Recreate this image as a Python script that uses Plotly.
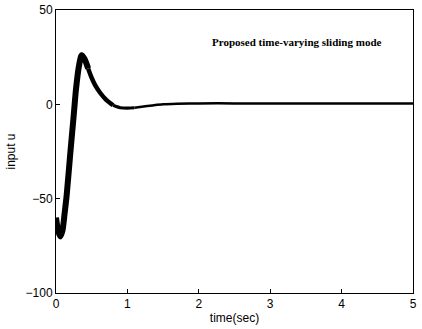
import plotly.graph_objects as go

time_s = [0.0, 0.03, 0.06, 0.09, 0.12, 0.15, 0.2, 0.25, 0.28, 0.32, 0.36, 0.4, 0.45, 0.5, 0.55, 0.62, 0.7, 0.8, 0.9, 1.0,
          1.1, 1.2, 1.35, 1.5, 1.7, 2.0, 2.5, 3.0, 3.5, 4.0, 4.5, 5.0]
input_u = [-60, -67, -70, -67, -58, -48, -26, -5, 8, 20, 26, 24, 19, 14, 10, 6, 2.5, -0.5, -1.8, -2.0,
           -1.8, -1.3, -0.6, 0.0, 0.3, 0.5, 0.5, 0.5, 0.5, 0.5, 0.5, 0.5]
x_ticks = [0, 1, 2, 3, 4, 5]
y_ticks = [-100, -50, 0, 50]

# segments with decreasing stroke width (chattering band narrows over time)
segments = [(0, 13, 6), (12, 18, 4.5), (17, 21, 3.2), (20, len(time_s), 2.5)]
fig = go.Figure()
for a, b, w in segments:
    fig.add_trace(go.Scatter(x=time_s[a:b], y=input_u[a:b], mode="lines",
                             line=dict(color="black", width=w, shape="spline", smoothing=0.8),
                             showlegend=False, hoverinfo="skip"))

fig.add_annotation(x=3.38, y=33, xref="x", yref="y", text="<b>Proposed time-varying sliding mode</b>",
                   showarrow=False, font=dict(family="Liberation Serif", size=11, color="black"))

axis_common = dict(showline=True, linecolor="black", linewidth=1, mirror=True, ticks="inside",
                   ticklen=4, tickcolor="black", showgrid=False, zeroline=False, automargin=False,
                   tickfont=dict(family="Liberation Sans", size=12, color="black"))
fig.update_xaxes(range=[0, 5], tickvals=x_ticks, ticklabeloverflow="allow",
                 title=dict(text="time(sec)", standoff=3,
                            font=dict(family="Liberation Sans", size=12, color="black")), **axis_common)
fig.update_yaxes(range=[-100, 50], tickvals=y_ticks,
                 title=dict(text="input u", standoff=7,
                            font=dict(family="Liberation Sans", size=12, color="black")), **axis_common)

fig.update_layout(width=422, height=329, margin=dict(l=56, r=9, t=10, b=36),
                  paper_bgcolor="white", plot_bgcolor="white")
fig.write_html("out.html", config={"displayModeBar": False},
               post_script="document.body.style.margin='0';")
